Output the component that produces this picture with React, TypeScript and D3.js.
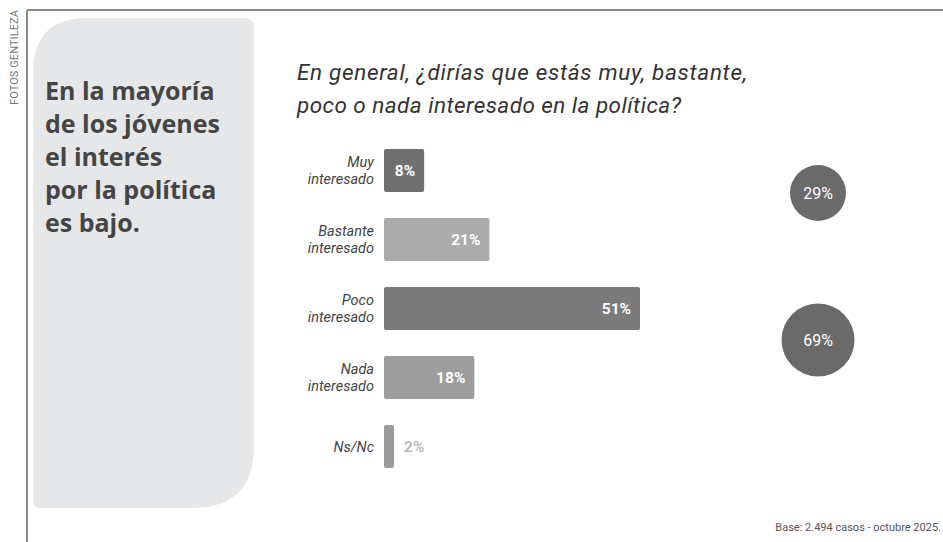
import React from "react";
import * as d3 from "d3";

const categories = [["Muy", "interesado"], ["Bastante", "interesado"], ["Poco", "interesado"], ["Nada", "interesado"], ["Ns/Nc"]];
const values = [8, 21, 51, 18, 2];
const barColors = ["#6f6f6f", "#ababab", "#7b7b7b", "#9d9d9d", "#9b9b9b"];
const groupTotals = [29, 69];
const panelLines = ["En la mayoría", "de los jóvenes", "el interés", "por la política", "es bajo."];
const titleLines = ["En general, ¿dirías que estás muy, bastante,", "poco o nada interesado en la política?"];
const footnote = "Base: 2.494 casos - octubre 2025.";
const credit = "FOTOS GENTILEZA";

const W = 943, H = 542;

function panelPath(x0: number, y0: number, x1: number, y1: number) {
  const rTL = 55, rTR = 10, rBR = 62, rBL = 8;
  return `M${x0},${y0 + rTL} Q${x0},${y0} ${x0 + rTL},${y0} L${x1 - rTR},${y0} Q${x1},${y0} ${x1},${y0 + rTR} L${x1},${y1 - rBR} Q${x1},${y1} ${x1 - rBR},${y1} L${x0 + rBL},${y1} Q${x0},${y1} ${x0},${y1 - rBL} Z`;
}

export default function App() {
  const x = d3.scaleLinear().domain([0, 51]).range([384, 640]);
  const y = d3.scaleBand<number>().domain(d3.range(values.length)).range([149, 468]).paddingInner(0.377).paddingOuter(0);
  const rScale = d3.scaleLinear().domain([29, 69]).range([28, 36.5]);
  const circleY = [193, 340];
  const font = "Roboto, 'DejaVu Sans', sans-serif";
  const titleWidths = [450, 384];

  return (
    <svg width={W} height={H} style={{ position: "absolute", left: 0, top: 0, background: "#fff" }}>
      <rect x={0} y={0} width={W} height={H} fill="#fff" />
      <line x1={27} y1={10} x2={27} y2={H} stroke="#8a8a8a" strokeWidth={2} />
      <line x1={27} y1={10} x2={W} y2={10} stroke="#8a8a8a" strokeWidth={2} />
      <text transform="translate(18,10) rotate(-90)" textAnchor="end" fontFamily={font} fontSize={11} fill="#777" textLength={95} lengthAdjust="spacing">{credit}</text>
      <path d={panelPath(33, 18, 254, 508)} fill="#e6e7e9" />
      {panelLines.map((l, i) => (
        <text key={i} x={45} y={100 + i * 33} fontFamily="'Open Sans', Roboto, sans-serif" fontWeight={700} fontSize={25} fill="#454545">{l}</text>
      ))}
      {titleLines.map((l, i) => (
        <text key={i} x={297} y={80 + i * 33} fontFamily={font} fontStyle="italic" fontSize={22.5} fill="#333" textLength={titleWidths[i]} lengthAdjust="spacing">{l}</text>
      ))}
      {values.map((v, i) => {
        const by = y(i)!;
        const bh = y.bandwidth();
        const cy = by + bh / 2;
        const lines = categories[i];
        const inside = v >= 5;
        return (
          <g key={i}>
            <rect x={x(0)} y={by} width={x(v) - x(0)} height={bh} rx={2} fill={barColors[i]} />
            {lines.map((t, j) => (
              <text key={j} x={374} y={cy + (j - (lines.length - 1) / 2) * 17.5 + 5} textAnchor="end" fontFamily={font} fontStyle="italic" fontSize={14.5} fill="#444">{t}</text>
            ))}
            <text x={inside ? x(v) - 9 : x(v) + 10} y={cy + 5.5} textAnchor={inside ? "end" : "start"} fontFamily={font} fontWeight={700} fontSize={15.5} fill={inside ? "#fff" : "#bbb"}>{v}%</text>
          </g>
        );
      })}
      {groupTotals.map((g, i) => (
        <g key={i}>
          <circle cx={818} cy={circleY[i]} r={rScale(g)} fill="#6a6a6a" />
          <text x={818} y={circleY[i] + 5.5} textAnchor="middle" fontFamily={font} fontSize={16} fill="#fff">{g}%</text>
        </g>
      ))}
      <text x={941} y={531} textAnchor="end" fontFamily={font} fontSize={11} fill="#555">{footnote}</text>
    </svg>
  );
}
